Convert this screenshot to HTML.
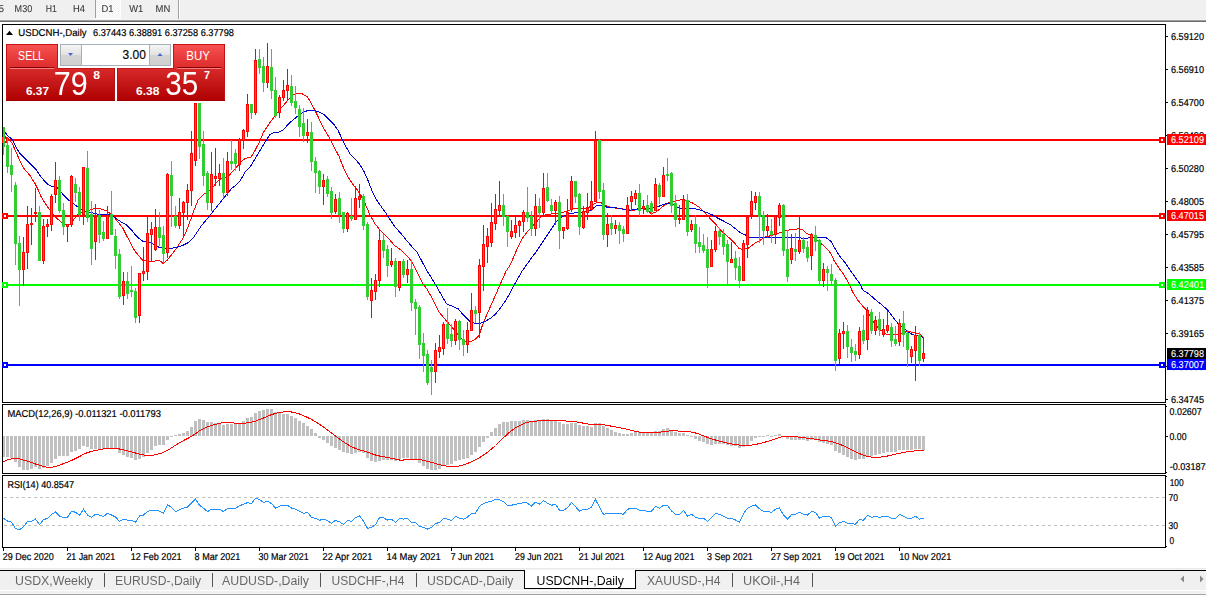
<!DOCTYPE html><html><head><meta charset="utf-8"><title>USDCNH</title>
<style>html,body{margin:0;padding:0;background:#fff;overflow:hidden}svg{display:block}text{font-family:"Liberation Sans",sans-serif}</style></head><body>
<svg width="1206" height="596" viewBox="0 0 1206 596">
<defs>
<linearGradient id="gs" x1="0" y1="0" x2="0" y2="1"><stop offset="0" stop-color="#f85252"/><stop offset="1" stop-color="#dc2a2a"/></linearGradient>
<linearGradient id="gp" x1="0" y1="0" x2="0" y2="1"><stop offset="0" stop-color="#d82a2a"/><stop offset="1" stop-color="#ae0000"/></linearGradient>
<linearGradient id="gb" x1="0" y1="0" x2="0" y2="1"><stop offset="0" stop-color="#f4f4f4"/><stop offset="0.5" stop-color="#e2e2e2"/><stop offset="0.5" stop-color="#d4d4d4"/><stop offset="1" stop-color="#d0d0d0"/></linearGradient>
<filter id="thin" x="-5%" y="-5%" width="110%" height="110%"><feMorphology operator="erode" radius="0.45"/></filter>
<pattern id="chk" width="2" height="2" patternUnits="userSpaceOnUse"><rect width="2" height="2" fill="#f0f0f0"/><rect width="1" height="1" fill="#fff"/><rect x="1" y="1" width="1" height="1" fill="#fff"/></pattern>
<clipPath id="cm"><rect x="3" y="25" width="1162" height="377"/></clipPath>
</defs>
<rect width="1206" height="596" fill="#fff"/>
<g shape-rendering="crispEdges">
<rect x="0" y="0" width="1206" height="19" fill="#f0f0f0"/>
<rect x="0" y="19" width="1206" height="1" fill="#f2f2f2"/>
<rect x="0" y="20" width="1206" height="1" fill="#a0a0a0"/>
<rect x="0" y="21" width="1206" height="1" fill="#696969"/>
<rect x="96" y="0" width="24" height="18" fill="url(#chk)"/>
<rect x="95" y="0" width="1" height="18" fill="#a0a0a0"/>
<rect x="120" y="0" width="1" height="19" fill="#fff"/><rect x="95" y="18" width="26" height="1" fill="#fff"/>
<rect x="178" y="0" width="1" height="19" fill="#a0a0a0"/>
<rect x="179" y="0" width="1" height="19" fill="#fff"/>
</g>
<text x="-1.5" y="12" font-size="10" fill="#383838" stroke="#383838" stroke-width="0.1" textLength="5.5" lengthAdjust="spacingAndGlyphs" text-rendering="geometricPrecision" opacity="0.99">5</text>
<text x="14.6" y="12" font-size="10" fill="#383838" stroke="#383838" stroke-width="0.1" textLength="17.6" lengthAdjust="spacingAndGlyphs" text-rendering="geometricPrecision" opacity="0.99">M30</text>
<text x="45.8" y="12" font-size="10" fill="#383838" stroke="#383838" stroke-width="0.1" textLength="11.1" lengthAdjust="spacingAndGlyphs" text-rendering="geometricPrecision" opacity="0.99">H1</text>
<text x="73" y="12" font-size="10" fill="#383838" stroke="#383838" stroke-width="0.1" textLength="12" lengthAdjust="spacingAndGlyphs" text-rendering="geometricPrecision" opacity="0.99">H4</text>
<text x="101.5" y="12" font-size="10" fill="#383838" stroke="#383838" stroke-width="0.1" textLength="12" lengthAdjust="spacingAndGlyphs" text-rendering="geometricPrecision" opacity="0.99">D1</text>
<text x="129.3" y="12" font-size="10" fill="#383838" stroke="#383838" stroke-width="0.1" textLength="14" lengthAdjust="spacingAndGlyphs" text-rendering="geometricPrecision" opacity="0.99">W1</text>
<text x="155.6" y="12" font-size="10" fill="#383838" stroke="#383838" stroke-width="0.1" textLength="14.7" lengthAdjust="spacingAndGlyphs" text-rendering="geometricPrecision" opacity="0.99">MN</text>
<g shape-rendering="crispEdges" fill="#000">
<rect x="2" y="24" width="1164" height="1"/>
<rect x="2" y="24" width="1" height="524"/>
<rect x="1165" y="24" width="1" height="524"/>
<rect x="2" y="402" width="1164" height="1"/>
<rect x="2" y="404" width="1164" height="1"/>
<rect x="2" y="473" width="1164" height="1"/>
<rect x="2" y="475" width="1164" height="1"/>
<rect x="2" y="547" width="1164" height="1"/>
<rect x="3" y="403" width="1162" height="1" fill="#fff"/>
<rect x="3" y="474" width="1162" height="1" fill="#fff"/>
<rect x="2" y="403" width="1" height="1" fill="#fff"/><rect x="1165" y="403" width="1" height="1" fill="#fff"/>
<rect x="2" y="474" width="1" height="1" fill="#fff"/><rect x="1165" y="474" width="1" height="1" fill="#fff"/>
</g>
<g shape-rendering="crispEdges" fill="#000">
<rect x="1166" y="36" width="2" height="1"/>
<rect x="1166" y="69" width="2" height="1"/>
<rect x="1166" y="102" width="2" height="1"/>
<rect x="1166" y="135" width="2" height="1"/>
<rect x="1166" y="168" width="2" height="1"/>
<rect x="1166" y="201" width="2" height="1"/>
<rect x="1166" y="234" width="2" height="1"/>
<rect x="1166" y="267" width="2" height="1"/>
<rect x="1166" y="300" width="2" height="1"/>
<rect x="1166" y="333" width="2" height="1"/>
<rect x="1166" y="366" width="2" height="1"/>
<rect x="1166" y="399" width="2" height="1"/>
<rect x="1166" y="406" width="1" height="1"/><rect x="1166" y="436" width="2" height="1"/><rect x="1166" y="472" width="1" height="1"/><rect x="1166" y="476" width="1" height="1"/><rect x="1166" y="546" width="1" height="1"/>
</g>
<text x="1171" y="40" font-size="10" fill="#000" stroke="#000" stroke-width="0.2" textLength="33" lengthAdjust="spacingAndGlyphs" text-rendering="geometricPrecision" >6.59120</text>
<text x="1171" y="73" font-size="10" fill="#000" stroke="#000" stroke-width="0.2" textLength="33" lengthAdjust="spacingAndGlyphs" text-rendering="geometricPrecision" >6.56910</text>
<text x="1171" y="106" font-size="10" fill="#000" stroke="#000" stroke-width="0.2" textLength="33" lengthAdjust="spacingAndGlyphs" text-rendering="geometricPrecision" >6.54700</text>
<text x="1171" y="139" font-size="10" fill="#000" stroke="#000" stroke-width="0.2" textLength="33" lengthAdjust="spacingAndGlyphs" text-rendering="geometricPrecision" >6.52490</text>
<text x="1171" y="172" font-size="10" fill="#000" stroke="#000" stroke-width="0.2" textLength="33" lengthAdjust="spacingAndGlyphs" text-rendering="geometricPrecision" >6.50280</text>
<text x="1171" y="205" font-size="10" fill="#000" stroke="#000" stroke-width="0.2" textLength="33" lengthAdjust="spacingAndGlyphs" text-rendering="geometricPrecision" >6.48005</text>
<text x="1171" y="238" font-size="10" fill="#000" stroke="#000" stroke-width="0.2" textLength="33" lengthAdjust="spacingAndGlyphs" text-rendering="geometricPrecision" >6.45795</text>
<text x="1171" y="271" font-size="10" fill="#000" stroke="#000" stroke-width="0.2" textLength="33" lengthAdjust="spacingAndGlyphs" text-rendering="geometricPrecision" >6.43585</text>
<text x="1171" y="304" font-size="10" fill="#000" stroke="#000" stroke-width="0.2" textLength="33" lengthAdjust="spacingAndGlyphs" text-rendering="geometricPrecision" >6.41375</text>
<text x="1171" y="337" font-size="10" fill="#000" stroke="#000" stroke-width="0.2" textLength="33" lengthAdjust="spacingAndGlyphs" text-rendering="geometricPrecision" >6.39165</text>
<text x="1171" y="370" font-size="10" fill="#000" stroke="#000" stroke-width="0.2" textLength="33" lengthAdjust="spacingAndGlyphs" text-rendering="geometricPrecision" >6.36955</text>
<text x="1171" y="403" font-size="10" fill="#000" stroke="#000" stroke-width="0.2" textLength="33" lengthAdjust="spacingAndGlyphs" text-rendering="geometricPrecision" >6.34745</text>
<text x="1169.5" y="415" font-size="10" fill="#000" stroke="#000" stroke-width="0.2" textLength="32.2" lengthAdjust="spacingAndGlyphs" text-rendering="geometricPrecision" >0.02607</text>
<text x="1169.5" y="440" font-size="10" fill="#000" stroke="#000" stroke-width="0.2" textLength="17" lengthAdjust="spacingAndGlyphs" text-rendering="geometricPrecision" >0.00</text>
<text x="1169.7" y="470" font-size="10" fill="#000" stroke="#000" stroke-width="0.2" textLength="41" lengthAdjust="spacingAndGlyphs" text-rendering="geometricPrecision" >-0.031872</text>
<text x="1169.7" y="486" font-size="10" fill="#000" stroke="#000" stroke-width="0.2" textLength="14" lengthAdjust="spacingAndGlyphs" text-rendering="geometricPrecision" >100</text>
<text x="1168.5" y="501" font-size="10" fill="#000" stroke="#000" stroke-width="0.2" textLength="9.5" lengthAdjust="spacingAndGlyphs" text-rendering="geometricPrecision" >70</text>
<text x="1168.5" y="529" font-size="10" fill="#000" stroke="#000" stroke-width="0.2" textLength="9.5" lengthAdjust="spacingAndGlyphs" text-rendering="geometricPrecision" >30</text>
<text x="1169.5" y="544" font-size="10" fill="#000" stroke="#000" stroke-width="0.2" textLength="4.6" lengthAdjust="spacingAndGlyphs" text-rendering="geometricPrecision" >0</text>
<g shape-rendering="crispEdges">
<rect x="3" y="139" width="1162" height="2" fill="#ff0000"/>
<rect x="2" y="137" width="6" height="6" fill="#ff0000"/><rect x="4" y="139" width="2" height="2" fill="#fff"/>
<rect x="1159" y="137" width="6" height="6" fill="#ff0000"/><rect x="1161" y="139" width="2" height="2" fill="#fff"/>
<rect x="1167" y="134" width="39" height="11" fill="#ff0000"/>
</g>
<text x="1171" y="143" font-size="10" fill="#fff" stroke="#fff" stroke-width="0.1" textLength="33" lengthAdjust="spacingAndGlyphs" text-rendering="geometricPrecision" >6.52109</text>
<g shape-rendering="crispEdges">
<rect x="3" y="215" width="1162" height="2" fill="#ff0000"/>
<rect x="2" y="213" width="6" height="6" fill="#ff0000"/><rect x="4" y="215" width="2" height="2" fill="#fff"/>
<rect x="1159" y="213" width="6" height="6" fill="#ff0000"/><rect x="1161" y="215" width="2" height="2" fill="#fff"/>
<rect x="1167" y="210" width="39" height="11" fill="#ff0000"/>
</g>
<text x="1171" y="219" font-size="10" fill="#fff" stroke="#fff" stroke-width="0.1" textLength="33" lengthAdjust="spacingAndGlyphs" text-rendering="geometricPrecision" >6.47015</text>
<g shape-rendering="crispEdges">
<rect x="3" y="284" width="1162" height="2" fill="#00ff00"/>
<rect x="2" y="282" width="6" height="6" fill="#00ff00"/><rect x="4" y="284" width="2" height="2" fill="#fff"/>
<rect x="1159" y="282" width="6" height="6" fill="#00ff00"/><rect x="1161" y="284" width="2" height="2" fill="#fff"/>
<rect x="1167" y="279" width="39" height="11" fill="#00ff00"/>
</g>
<text x="1171" y="288" font-size="10" fill="#fff" stroke="#fff" stroke-width="0.1" textLength="33" lengthAdjust="spacingAndGlyphs" text-rendering="geometricPrecision" >6.42401</text>
<rect x="1167" y="348" width="39" height="11" fill="#000" shape-rendering="crispEdges"/>
<text x="1171" y="357" font-size="10" fill="#fff" stroke="#fff" stroke-width="0.1" textLength="33" lengthAdjust="spacingAndGlyphs" text-rendering="geometricPrecision" >6.37798</text>
<g shape-rendering="crispEdges">
<rect x="3" y="364" width="1162" height="2" fill="#0000ff"/>
<rect x="2" y="362" width="6" height="6" fill="#0000ff"/><rect x="4" y="364" width="2" height="2" fill="#fff"/>
<rect x="1159" y="362" width="6" height="6" fill="#0000ff"/><rect x="1161" y="364" width="2" height="2" fill="#fff"/>
<rect x="1167" y="359" width="39" height="11" fill="#0000ff"/>
</g>
<text x="1171" y="368" font-size="10" fill="#fff" stroke="#fff" stroke-width="0.1" textLength="33" lengthAdjust="spacingAndGlyphs" text-rendering="geometricPrecision" >6.37007</text>
<g shape-rendering="crispEdges"><rect x="2" y="24" width="1" height="379" fill="#000"/><rect x="2" y="404" width="1" height="70" fill="#000"/><rect x="2" y="475" width="1" height="73" fill="#000"/></g>
<g shape-rendering="crispEdges"><rect x="2" y="137" width="6" height="6" fill="#ff0000"/><rect x="4" y="139" width="2" height="2" fill="#fff"/></g>
<g shape-rendering="crispEdges"><rect x="2" y="213" width="6" height="6" fill="#ff0000"/><rect x="4" y="215" width="2" height="2" fill="#fff"/></g>
<g shape-rendering="crispEdges"><rect x="2" y="282" width="6" height="6" fill="#00ff00"/><rect x="4" y="284" width="2" height="2" fill="#fff"/></g>
<g shape-rendering="crispEdges"><rect x="2" y="362" width="6" height="6" fill="#0000ff"/><rect x="4" y="364" width="2" height="2" fill="#fff"/></g>
<polyline fill="none" stroke="#ff0000" stroke-width="1" points="3,136 8,138 12,143 16,152 20,161 24,168.5 30,175.5 35,183.6 38,189.6 41,196.6 45,203 49,209 53,214 57,218.5 61,222 64,224.6 69.5,224.6 73.5,220 76.5,216 80,213 86.6,211 94.6,208.5 100.7,209 106.7,211 110.7,214 114.8,218 118.8,223 122.8,228 126.8,236 130.9,244 134.9,251 138.9,256 142.9,260.4 147,260.8 153,261.4 159,260 163,263.4 167,260.4 171,255.4 175,250.3 179,244.3 183,238.3 186,232 189,224 192,216 194.3,209.5 197.3,202 198.3,199.7 203.3,194.6 208.4,191.6 213.4,186.6 217.4,181.5 221.5,178.5 227.5,177.5 231.5,172.5 235,168.9 240,163 245,158.5 251,157.2 255,150.5 259.4,142 263.6,132 268.6,124.5 273.6,117.8 278.7,111 283.7,105.2 288.7,99.3 293,95 297,93 302,93.8 307,96.4 310.5,101.8 314,108.5 319,118.6 324,128.7 329,137 334,147 339,156.3 344,169 348.5,177.6 352.7,184.3 356.8,189.3 361,195.5 365,203.3 369.5,213.8 374.7,223.4 380,230 384.5,234.6 389,239 394.3,245.4 399,248.5 403.8,252.5 408,257 412.1,262 415.6,269 417.2,272.5 422.2,282.6 427.2,289.5 432.3,298.7 436,306 438.3,311 443.3,317.2 449.4,324.3 455.4,331.3 461.5,338.4 466.5,342.4 471.5,341.4 475,339.7 479,335.7 482,326.6 486,316.6 490,307.5 494,298.5 498,289.4 502,280.3 506,271.3 510,265.2 514,256.2 518,247.1 522,239 527,232 532,226.7 537,221.6 541,216.6 546,214.6 556,213.5 566.6,211.6 570.7,209.6 576.7,208 582.7,208.6 588.8,207.5 592.8,204.5 596.8,202.5 600.9,202.5 604.9,205.5 610.9,207.5 619,208.5 627,209.6 633,210.6 641,208.5 647,209.6 651,213.6 655,212.6 659,209.6 664,205.5 669,202.5 675,201.1 681,199.9 687,200.5 693.5,203.5 699.5,207.5 704.6,212.6 710,218.3 715,223.4 720,229.4 725,234.4 730,238.5 735,243.5 739,248.5 743,249.5 748,248.5 752,245.5 756,242.5 760,240.5 764,237.4 769.5,236 775.5,234 780.5,232.4 786.6,230.4 792.6,229.4 798.7,228.8 802.7,230 806.7,233.4 810.7,235.4 815.8,239.5 820.8,243.5 825.8,247.5 831,253.6 834,260.6 838,266.6 843,273.5 847,280 849,284 852.7,292 857.7,300 862.7,306 866.8,310.3 870.8,317.3 874.8,324.4 881,330.4 887,334.8 895,334.4 901,334 907,331.4 913,332.4 919,334 923,337" clip-path="url(#cm)" shape-rendering="crispEdges"/>
<polyline fill="none" stroke="#0000d0" stroke-width="1" points="3,129 4,131 8,136 12,139.3 15,145.3 19,152.3 24,157.4 30,163.4 36,169.5 40,175.5 44,180.5 48,184.6 52,186.6 56,186.6 60,190.6 64,195.6 68.5,200 72.5,203 76.5,206 80.5,209 84.6,211 90.6,212.5 96.6,214 104,214.5 110,215 112.7,215.7 116.8,219 120.8,221.7 126.8,225.2 130.9,229.2 134.9,234.2 138.9,238.3 142.9,241.3 149,241.9 155,245.3 159,247.3 165,248.3 171,248.3 177,247.3 183,245.3 189,242.3 193,238.3 197,232.2 201,226.2 205.4,221 209.4,216 213.4,211 217.4,206 221.5,201 226.5,194.6 231.5,188.6 235.6,185.6 240,181 245,172.3 250,167.2 255,158.9 260,150.5 265,142.1 270,134.5 274.5,132.3 279.5,132 283.7,129.5 288.7,123.6 293.8,119.4 298.8,115.2 303.8,111.9 308.9,110.2 313.9,110.5 318.9,111.9 324,114.4 329,119.4 334,124.5 338,130.3 341.6,137.9 345.8,146.3 350,153.8 355,158.9 360,164.7 364,171.5 367.8,180 372,191 376.5,199.7 381.5,207 385,211.8 389,218 395,227 401,233.5 407,241 412.2,247 416.3,251 421,259.6 426.3,269.7 431.3,277.6 436.3,285.8 441.3,294.8 446.4,303.8 451.4,305.9 458.4,309 463.5,315.2 469.5,321.2 473,322.2 476,324 480,323.2 485,321.6 490,318.6 495,314.6 500,308.5 505,301.5 510,293.4 514,285.4 518,278.3 522,271.3 527,264.2 532,257.2 536,252.1 540,246 544,240.1 548,234 551,229.5 555.6,222.6 560.6,217.6 565.6,215.2 570.7,213.6 576.7,212.6 582.7,212 588.8,211.2 592.8,208.6 596.8,205.5 601.9,205.5 606.9,207.1 615,207.5 623,209.2 629,210.6 635,209.2 643,208.5 651,208 657,207.1 663,204.5 668,203.1 673,203.9 677,207.5 683,208.5 691.5,208.5 697.5,209.2 703.5,211.2 706,212.3 712,214.7 718,218.3 724,221.3 730,224.4 735,228.4 740,232.4 745,234.8 750,237.4 758,237.4 766,237.4 772.5,238 780.5,237.4 788.6,238 796.6,237.4 804.7,238.5 812.7,237.4 820.8,237.4 825.8,237.4 831,241.5 835,248.5 840,256.6 845,262.6 850,270 855,277 860,284 862.7,290 868.8,293.8 874.8,299.2 881,304.2 887,309.3 893,317.3 898,323.4 903,327.4 908,332 913,334.8 919,336 923,337.4" clip-path="url(#cm)" shape-rendering="crispEdges"/>
<g shape-rendering="crispEdges" clip-path="url(#cm)">
<rect x="3" y="127" width="1" height="28" fill="#32cd32"/>
<rect x="2" y="127" width="3" height="20" fill="#32cd32"/>
<rect x="7" y="138" width="1" height="35" fill="#32cd32"/>
<rect x="6" y="145" width="3" height="22" fill="#32cd32"/>
<rect x="11" y="148" width="1" height="44" fill="#32cd32"/>
<rect x="10" y="165" width="3" height="10" fill="#32cd32"/>
<rect x="15" y="182" width="1" height="83" fill="#32cd32"/>
<rect x="14" y="185" width="3" height="59" fill="#32cd32"/>
<rect x="19" y="236" width="1" height="70" fill="#32cd32"/>
<rect x="18" y="243" width="3" height="27" fill="#32cd32"/>
<rect x="23" y="237" width="1" height="49" fill="#ff0000"/>
<rect x="22" y="252" width="3" height="18" fill="#ff0000"/>
<rect x="23" y="253" width="1" height="16" fill="#ff5a00"/>
<rect x="27" y="206" width="1" height="63" fill="#ff0000"/>
<rect x="26" y="224" width="3" height="29" fill="#ff0000"/>
<rect x="27" y="225" width="1" height="27" fill="#ff5a00"/>
<rect x="31" y="208" width="1" height="37" fill="#ff0000"/>
<rect x="30" y="223" width="3" height="2" fill="#ff0000"/>
<rect x="35" y="188" width="1" height="34" fill="#ff0000"/>
<rect x="34" y="212" width="3" height="2" fill="#ff0000"/>
<rect x="39" y="206" width="1" height="55" fill="#32cd32"/>
<rect x="38" y="212" width="3" height="49" fill="#32cd32"/>
<rect x="43" y="219" width="1" height="45" fill="#ff0000"/>
<rect x="42" y="226" width="3" height="35" fill="#ff0000"/>
<rect x="43" y="227" width="1" height="33" fill="#ff5a00"/>
<rect x="47" y="219" width="1" height="18" fill="#ff0000"/>
<rect x="46" y="224" width="3" height="3" fill="#ff0000"/>
<rect x="47" y="225" width="1" height="1" fill="#ff5a00"/>
<rect x="51" y="194" width="1" height="37" fill="#ff0000"/>
<rect x="50" y="196" width="3" height="29" fill="#ff0000"/>
<rect x="51" y="197" width="1" height="27" fill="#ff5a00"/>
<rect x="55" y="162" width="1" height="41" fill="#ff0000"/>
<rect x="54" y="180" width="3" height="15" fill="#ff0000"/>
<rect x="55" y="181" width="1" height="13" fill="#ff5a00"/>
<rect x="59" y="176" width="1" height="37" fill="#32cd32"/>
<rect x="58" y="180" width="3" height="31" fill="#32cd32"/>
<rect x="63" y="203" width="1" height="32" fill="#32cd32"/>
<rect x="62" y="210" width="3" height="17" fill="#32cd32"/>
<rect x="67" y="224" width="1" height="18" fill="#ff0000"/>
<rect x="66" y="224" width="3" height="3" fill="#ff0000"/>
<rect x="67" y="225" width="1" height="1" fill="#ff5a00"/>
<rect x="71" y="175" width="1" height="52" fill="#ff0000"/>
<rect x="70" y="176" width="3" height="49" fill="#ff0000"/>
<rect x="71" y="177" width="1" height="47" fill="#ff5a00"/>
<rect x="75" y="178" width="1" height="24" fill="#32cd32"/>
<rect x="74" y="184" width="3" height="9" fill="#32cd32"/>
<rect x="79" y="187" width="1" height="34" fill="#32cd32"/>
<rect x="78" y="192" width="3" height="23" fill="#32cd32"/>
<rect x="83" y="167" width="1" height="58" fill="#ff0000"/>
<rect x="82" y="167" width="3" height="48" fill="#ff0000"/>
<rect x="83" y="168" width="1" height="46" fill="#ff5a00"/>
<rect x="87" y="151" width="1" height="71" fill="#32cd32"/>
<rect x="86" y="168" width="3" height="50" fill="#32cd32"/>
<rect x="91" y="201" width="1" height="64" fill="#32cd32"/>
<rect x="90" y="214" width="3" height="35" fill="#32cd32"/>
<rect x="95" y="204" width="1" height="56" fill="#ff0000"/>
<rect x="94" y="217" width="3" height="25" fill="#ff0000"/>
<rect x="95" y="218" width="1" height="23" fill="#ff5a00"/>
<rect x="99" y="210" width="1" height="33" fill="#32cd32"/>
<rect x="98" y="215" width="3" height="20" fill="#32cd32"/>
<rect x="103" y="221" width="1" height="20" fill="#32cd32"/>
<rect x="102" y="232" width="3" height="7" fill="#32cd32"/>
<rect x="107" y="206" width="1" height="33" fill="#ff0000"/>
<rect x="106" y="215" width="3" height="24" fill="#ff0000"/>
<rect x="107" y="216" width="1" height="22" fill="#ff5a00"/>
<rect x="111" y="191" width="1" height="44" fill="#32cd32"/>
<rect x="110" y="214" width="3" height="21" fill="#32cd32"/>
<rect x="115" y="229" width="1" height="40" fill="#32cd32"/>
<rect x="114" y="236" width="3" height="20" fill="#32cd32"/>
<rect x="119" y="249" width="1" height="50" fill="#32cd32"/>
<rect x="118" y="254" width="3" height="43" fill="#32cd32"/>
<rect x="123" y="272" width="1" height="33" fill="#ff0000"/>
<rect x="122" y="281" width="3" height="15" fill="#ff0000"/>
<rect x="123" y="282" width="1" height="13" fill="#ff5a00"/>
<rect x="127" y="272" width="1" height="27" fill="#32cd32"/>
<rect x="126" y="281" width="3" height="13" fill="#32cd32"/>
<rect x="131" y="266" width="1" height="31" fill="#32cd32"/>
<rect x="130" y="290" width="3" height="2" fill="#32cd32"/>
<rect x="135" y="288" width="1" height="35" fill="#32cd32"/>
<rect x="134" y="291" width="3" height="27" fill="#32cd32"/>
<rect x="139" y="273" width="1" height="50" fill="#ff0000"/>
<rect x="138" y="273" width="3" height="43" fill="#ff0000"/>
<rect x="139" y="274" width="1" height="41" fill="#ff5a00"/>
<rect x="143" y="247" width="1" height="34" fill="#ff0000"/>
<rect x="142" y="271" width="3" height="3" fill="#ff0000"/>
<rect x="143" y="272" width="1" height="1" fill="#ff5a00"/>
<rect x="147" y="216" width="1" height="64" fill="#ff0000"/>
<rect x="146" y="233" width="3" height="39" fill="#ff0000"/>
<rect x="147" y="234" width="1" height="37" fill="#ff5a00"/>
<rect x="151" y="222" width="1" height="39" fill="#ff0000"/>
<rect x="150" y="229" width="3" height="6" fill="#ff0000"/>
<rect x="151" y="230" width="1" height="4" fill="#ff5a00"/>
<rect x="155" y="209" width="1" height="42" fill="#ff0000"/>
<rect x="154" y="227" width="3" height="23" fill="#ff0000"/>
<rect x="155" y="228" width="1" height="21" fill="#ff5a00"/>
<rect x="159" y="212" width="1" height="34" fill="#32cd32"/>
<rect x="158" y="227" width="3" height="11" fill="#32cd32"/>
<rect x="163" y="226" width="1" height="37" fill="#32cd32"/>
<rect x="162" y="235" width="3" height="19" fill="#32cd32"/>
<rect x="167" y="173" width="1" height="85" fill="#ff0000"/>
<rect x="166" y="174" width="3" height="79" fill="#ff0000"/>
<rect x="167" y="175" width="1" height="77" fill="#ff5a00"/>
<rect x="171" y="161" width="1" height="66" fill="#32cd32"/>
<rect x="170" y="175" width="3" height="21" fill="#32cd32"/>
<rect x="175" y="206" width="1" height="22" fill="#32cd32"/>
<rect x="174" y="216" width="3" height="10" fill="#32cd32"/>
<rect x="179" y="198" width="1" height="31" fill="#ff0000"/>
<rect x="178" y="212" width="3" height="14" fill="#ff0000"/>
<rect x="179" y="213" width="1" height="12" fill="#ff5a00"/>
<rect x="183" y="201" width="1" height="37" fill="#ff0000"/>
<rect x="182" y="202" width="3" height="11" fill="#ff0000"/>
<rect x="183" y="203" width="1" height="9" fill="#ff5a00"/>
<rect x="187" y="184" width="1" height="36" fill="#ff0000"/>
<rect x="186" y="190" width="3" height="13" fill="#ff0000"/>
<rect x="187" y="191" width="1" height="11" fill="#ff5a00"/>
<rect x="191" y="131" width="1" height="75" fill="#ff0000"/>
<rect x="190" y="153" width="3" height="38" fill="#ff0000"/>
<rect x="191" y="154" width="1" height="36" fill="#ff5a00"/>
<rect x="195" y="103" width="1" height="63" fill="#ff0000"/>
<rect x="194" y="103" width="3" height="58" fill="#ff0000"/>
<rect x="195" y="104" width="1" height="56" fill="#ff5a00"/>
<rect x="199" y="103" width="1" height="56" fill="#32cd32"/>
<rect x="198" y="103" width="3" height="44" fill="#32cd32"/>
<rect x="203" y="131" width="1" height="55" fill="#32cd32"/>
<rect x="202" y="144" width="3" height="32" fill="#32cd32"/>
<rect x="207" y="171" width="1" height="39" fill="#32cd32"/>
<rect x="206" y="173" width="3" height="30" fill="#32cd32"/>
<rect x="211" y="152" width="1" height="59" fill="#ff0000"/>
<rect x="210" y="174" width="3" height="29" fill="#ff0000"/>
<rect x="211" y="175" width="1" height="27" fill="#ff5a00"/>
<rect x="215" y="148" width="1" height="38" fill="#ff0000"/>
<rect x="214" y="176" width="3" height="3" fill="#ff0000"/>
<rect x="215" y="177" width="1" height="1" fill="#ff5a00"/>
<rect x="219" y="164" width="1" height="22" fill="#ff0000"/>
<rect x="218" y="173" width="3" height="6" fill="#ff0000"/>
<rect x="219" y="174" width="1" height="4" fill="#ff5a00"/>
<rect x="223" y="158" width="1" height="40" fill="#32cd32"/>
<rect x="222" y="173" width="3" height="20" fill="#32cd32"/>
<rect x="227" y="152" width="1" height="44" fill="#ff0000"/>
<rect x="226" y="161" width="3" height="32" fill="#ff0000"/>
<rect x="227" y="162" width="1" height="30" fill="#ff5a00"/>
<rect x="231" y="140" width="1" height="30" fill="#32cd32"/>
<rect x="230" y="161" width="3" height="3" fill="#32cd32"/>
<rect x="235" y="149" width="1" height="22" fill="#32cd32"/>
<rect x="234" y="153" width="3" height="11" fill="#32cd32"/>
<rect x="239" y="138" width="1" height="33" fill="#ff0000"/>
<rect x="238" y="139" width="3" height="26" fill="#ff0000"/>
<rect x="239" y="140" width="1" height="24" fill="#ff5a00"/>
<rect x="243" y="129" width="1" height="20" fill="#ff0000"/>
<rect x="242" y="130" width="3" height="11" fill="#ff0000"/>
<rect x="243" y="131" width="1" height="9" fill="#ff5a00"/>
<rect x="247" y="94" width="1" height="43" fill="#ff0000"/>
<rect x="246" y="104" width="3" height="28" fill="#ff0000"/>
<rect x="247" y="105" width="1" height="26" fill="#ff5a00"/>
<rect x="251" y="104" width="1" height="15" fill="#32cd32"/>
<rect x="250" y="104" width="3" height="9" fill="#32cd32"/>
<rect x="255" y="49" width="1" height="66" fill="#ff0000"/>
<rect x="254" y="60" width="3" height="53" fill="#ff0000"/>
<rect x="255" y="61" width="1" height="51" fill="#ff5a00"/>
<rect x="259" y="49" width="1" height="25" fill="#32cd32"/>
<rect x="258" y="59" width="3" height="9" fill="#32cd32"/>
<rect x="263" y="57" width="1" height="35" fill="#32cd32"/>
<rect x="262" y="66" width="3" height="17" fill="#32cd32"/>
<rect x="267" y="43" width="1" height="45" fill="#ff0000"/>
<rect x="266" y="66" width="3" height="17" fill="#ff0000"/>
<rect x="267" y="67" width="1" height="15" fill="#ff5a00"/>
<rect x="271" y="49" width="1" height="50" fill="#32cd32"/>
<rect x="270" y="67" width="3" height="24" fill="#32cd32"/>
<rect x="275" y="77" width="1" height="41" fill="#32cd32"/>
<rect x="274" y="90" width="3" height="26" fill="#32cd32"/>
<rect x="279" y="95" width="1" height="23" fill="#ff0000"/>
<rect x="278" y="97" width="3" height="16" fill="#ff0000"/>
<rect x="279" y="98" width="1" height="14" fill="#ff5a00"/>
<rect x="283" y="80" width="1" height="21" fill="#ff0000"/>
<rect x="282" y="90" width="3" height="8" fill="#ff0000"/>
<rect x="283" y="91" width="1" height="6" fill="#ff5a00"/>
<rect x="287" y="69" width="1" height="32" fill="#ff0000"/>
<rect x="286" y="85" width="3" height="6" fill="#ff0000"/>
<rect x="287" y="86" width="1" height="4" fill="#ff5a00"/>
<rect x="291" y="75" width="1" height="31" fill="#32cd32"/>
<rect x="290" y="86" width="3" height="17" fill="#32cd32"/>
<rect x="295" y="86" width="1" height="28" fill="#32cd32"/>
<rect x="294" y="101" width="3" height="7" fill="#32cd32"/>
<rect x="299" y="105" width="1" height="32" fill="#32cd32"/>
<rect x="298" y="109" width="3" height="18" fill="#32cd32"/>
<rect x="303" y="108" width="1" height="34" fill="#32cd32"/>
<rect x="302" y="123" width="3" height="13" fill="#32cd32"/>
<rect x="307" y="119" width="1" height="24" fill="#ff0000"/>
<rect x="306" y="132" width="3" height="4" fill="#ff0000"/>
<rect x="307" y="133" width="1" height="2" fill="#ff5a00"/>
<rect x="311" y="122" width="1" height="49" fill="#32cd32"/>
<rect x="310" y="132" width="3" height="30" fill="#32cd32"/>
<rect x="315" y="157" width="1" height="36" fill="#32cd32"/>
<rect x="314" y="161" width="3" height="12" fill="#32cd32"/>
<rect x="319" y="170" width="1" height="24" fill="#32cd32"/>
<rect x="318" y="171" width="3" height="16" fill="#32cd32"/>
<rect x="323" y="174" width="1" height="31" fill="#ff0000"/>
<rect x="322" y="180" width="3" height="7" fill="#ff0000"/>
<rect x="323" y="181" width="1" height="5" fill="#ff5a00"/>
<rect x="327" y="176" width="1" height="21" fill="#32cd32"/>
<rect x="326" y="179" width="3" height="15" fill="#32cd32"/>
<rect x="331" y="187" width="1" height="32" fill="#32cd32"/>
<rect x="330" y="191" width="3" height="22" fill="#32cd32"/>
<rect x="335" y="194" width="1" height="20" fill="#ff0000"/>
<rect x="334" y="199" width="3" height="13" fill="#ff0000"/>
<rect x="335" y="200" width="1" height="11" fill="#ff5a00"/>
<rect x="339" y="192" width="1" height="31" fill="#32cd32"/>
<rect x="338" y="198" width="3" height="17" fill="#32cd32"/>
<rect x="343" y="212" width="1" height="21" fill="#32cd32"/>
<rect x="342" y="212" width="3" height="17" fill="#32cd32"/>
<rect x="347" y="212" width="1" height="20" fill="#ff0000"/>
<rect x="346" y="213" width="3" height="16" fill="#ff0000"/>
<rect x="347" y="214" width="1" height="14" fill="#ff5a00"/>
<rect x="351" y="198" width="1" height="23" fill="#32cd32"/>
<rect x="350" y="216" width="3" height="3" fill="#32cd32"/>
<rect x="355" y="186" width="1" height="34" fill="#ff0000"/>
<rect x="354" y="198" width="3" height="22" fill="#ff0000"/>
<rect x="355" y="199" width="1" height="20" fill="#ff5a00"/>
<rect x="359" y="184" width="1" height="24" fill="#ff0000"/>
<rect x="358" y="196" width="3" height="4" fill="#ff0000"/>
<rect x="359" y="197" width="1" height="2" fill="#ff5a00"/>
<rect x="363" y="194" width="1" height="36" fill="#32cd32"/>
<rect x="362" y="196" width="3" height="30" fill="#32cd32"/>
<rect x="367" y="222" width="1" height="78" fill="#32cd32"/>
<rect x="366" y="224" width="3" height="73" fill="#32cd32"/>
<rect x="371" y="278" width="1" height="40" fill="#ff0000"/>
<rect x="370" y="290" width="3" height="11" fill="#ff0000"/>
<rect x="371" y="291" width="1" height="9" fill="#ff5a00"/>
<rect x="375" y="274" width="1" height="26" fill="#ff0000"/>
<rect x="374" y="280" width="3" height="12" fill="#ff0000"/>
<rect x="375" y="281" width="1" height="10" fill="#ff5a00"/>
<rect x="379" y="230" width="1" height="57" fill="#ff0000"/>
<rect x="378" y="240" width="3" height="41" fill="#ff0000"/>
<rect x="379" y="241" width="1" height="39" fill="#ff5a00"/>
<rect x="383" y="234" width="1" height="24" fill="#32cd32"/>
<rect x="382" y="240" width="3" height="11" fill="#32cd32"/>
<rect x="387" y="245" width="1" height="32" fill="#32cd32"/>
<rect x="386" y="249" width="3" height="17" fill="#32cd32"/>
<rect x="391" y="248" width="1" height="19" fill="#ff0000"/>
<rect x="390" y="261" width="3" height="4" fill="#ff0000"/>
<rect x="391" y="262" width="1" height="2" fill="#ff5a00"/>
<rect x="395" y="258" width="1" height="39" fill="#32cd32"/>
<rect x="394" y="261" width="3" height="26" fill="#32cd32"/>
<rect x="399" y="261" width="1" height="30" fill="#ff0000"/>
<rect x="398" y="261" width="3" height="27" fill="#ff0000"/>
<rect x="399" y="262" width="1" height="25" fill="#ff5a00"/>
<rect x="403" y="259" width="1" height="19" fill="#32cd32"/>
<rect x="402" y="261" width="3" height="14" fill="#32cd32"/>
<rect x="407" y="260" width="1" height="23" fill="#ff0000"/>
<rect x="406" y="269" width="3" height="6" fill="#ff0000"/>
<rect x="407" y="270" width="1" height="4" fill="#ff5a00"/>
<rect x="411" y="260" width="1" height="51" fill="#32cd32"/>
<rect x="410" y="269" width="3" height="34" fill="#32cd32"/>
<rect x="415" y="299" width="1" height="36" fill="#32cd32"/>
<rect x="414" y="302" width="3" height="7" fill="#32cd32"/>
<rect x="419" y="305" width="1" height="54" fill="#32cd32"/>
<rect x="418" y="307" width="3" height="38" fill="#32cd32"/>
<rect x="423" y="333" width="1" height="39" fill="#32cd32"/>
<rect x="422" y="343" width="3" height="13" fill="#32cd32"/>
<rect x="427" y="350" width="1" height="35" fill="#32cd32"/>
<rect x="426" y="354" width="3" height="29" fill="#32cd32"/>
<rect x="431" y="360" width="1" height="35" fill="#32cd32"/>
<rect x="430" y="367" width="3" height="5" fill="#32cd32"/>
<rect x="435" y="343" width="1" height="40" fill="#ff0000"/>
<rect x="434" y="350" width="3" height="22" fill="#ff0000"/>
<rect x="435" y="351" width="1" height="20" fill="#ff5a00"/>
<rect x="439" y="335" width="1" height="23" fill="#ff0000"/>
<rect x="438" y="347" width="3" height="5" fill="#ff0000"/>
<rect x="439" y="348" width="1" height="3" fill="#ff5a00"/>
<rect x="443" y="322" width="1" height="33" fill="#ff0000"/>
<rect x="442" y="324" width="3" height="25" fill="#ff0000"/>
<rect x="443" y="325" width="1" height="23" fill="#ff5a00"/>
<rect x="447" y="308" width="1" height="36" fill="#32cd32"/>
<rect x="446" y="324" width="3" height="15" fill="#32cd32"/>
<rect x="451" y="324" width="1" height="23" fill="#32cd32"/>
<rect x="450" y="334" width="3" height="7" fill="#32cd32"/>
<rect x="455" y="319" width="1" height="26" fill="#ff0000"/>
<rect x="454" y="321" width="3" height="20" fill="#ff0000"/>
<rect x="455" y="322" width="1" height="18" fill="#ff5a00"/>
<rect x="459" y="320" width="1" height="30" fill="#32cd32"/>
<rect x="458" y="321" width="3" height="19" fill="#32cd32"/>
<rect x="463" y="330" width="1" height="26" fill="#32cd32"/>
<rect x="462" y="339" width="3" height="6" fill="#32cd32"/>
<rect x="467" y="322" width="1" height="31" fill="#ff0000"/>
<rect x="466" y="330" width="3" height="15" fill="#ff0000"/>
<rect x="467" y="331" width="1" height="13" fill="#ff5a00"/>
<rect x="471" y="293" width="1" height="38" fill="#ff0000"/>
<rect x="470" y="310" width="3" height="21" fill="#ff0000"/>
<rect x="471" y="311" width="1" height="19" fill="#ff5a00"/>
<rect x="475" y="306" width="1" height="17" fill="#32cd32"/>
<rect x="474" y="310" width="3" height="4" fill="#32cd32"/>
<rect x="479" y="259" width="1" height="79" fill="#ff0000"/>
<rect x="478" y="265" width="3" height="48" fill="#ff0000"/>
<rect x="479" y="266" width="1" height="46" fill="#ff5a00"/>
<rect x="483" y="225" width="1" height="66" fill="#ff0000"/>
<rect x="482" y="244" width="3" height="23" fill="#ff0000"/>
<rect x="483" y="245" width="1" height="21" fill="#ff5a00"/>
<rect x="487" y="228" width="1" height="35" fill="#ff0000"/>
<rect x="486" y="236" width="3" height="11" fill="#ff0000"/>
<rect x="487" y="237" width="1" height="9" fill="#ff5a00"/>
<rect x="491" y="203" width="1" height="44" fill="#ff0000"/>
<rect x="490" y="222" width="3" height="21" fill="#ff0000"/>
<rect x="491" y="223" width="1" height="19" fill="#ff5a00"/>
<rect x="495" y="194" width="1" height="36" fill="#ff0000"/>
<rect x="494" y="209" width="3" height="15" fill="#ff0000"/>
<rect x="495" y="210" width="1" height="13" fill="#ff5a00"/>
<rect x="499" y="181" width="1" height="36" fill="#ff0000"/>
<rect x="498" y="205" width="3" height="6" fill="#ff0000"/>
<rect x="499" y="206" width="1" height="4" fill="#ff5a00"/>
<rect x="503" y="194" width="1" height="32" fill="#32cd32"/>
<rect x="502" y="205" width="3" height="12" fill="#32cd32"/>
<rect x="507" y="215" width="1" height="32" fill="#32cd32"/>
<rect x="506" y="216" width="3" height="16" fill="#32cd32"/>
<rect x="511" y="220" width="1" height="19" fill="#ff0000"/>
<rect x="510" y="231" width="3" height="6" fill="#ff0000"/>
<rect x="511" y="232" width="1" height="4" fill="#ff5a00"/>
<rect x="515" y="217" width="1" height="21" fill="#ff0000"/>
<rect x="514" y="225" width="3" height="8" fill="#ff0000"/>
<rect x="515" y="226" width="1" height="6" fill="#ff5a00"/>
<rect x="519" y="220" width="1" height="17" fill="#ff0000"/>
<rect x="518" y="221" width="3" height="5" fill="#ff0000"/>
<rect x="519" y="222" width="1" height="3" fill="#ff5a00"/>
<rect x="523" y="210" width="1" height="22" fill="#ff0000"/>
<rect x="522" y="212" width="3" height="10" fill="#ff0000"/>
<rect x="523" y="213" width="1" height="8" fill="#ff5a00"/>
<rect x="527" y="187" width="1" height="35" fill="#32cd32"/>
<rect x="526" y="212" width="3" height="6" fill="#32cd32"/>
<rect x="531" y="211" width="1" height="25" fill="#32cd32"/>
<rect x="530" y="216" width="3" height="13" fill="#32cd32"/>
<rect x="535" y="194" width="1" height="42" fill="#ff0000"/>
<rect x="534" y="206" width="3" height="23" fill="#ff0000"/>
<rect x="535" y="207" width="1" height="21" fill="#ff5a00"/>
<rect x="539" y="198" width="1" height="30" fill="#32cd32"/>
<rect x="538" y="206" width="3" height="7" fill="#32cd32"/>
<rect x="543" y="173" width="1" height="42" fill="#ff0000"/>
<rect x="542" y="188" width="3" height="25" fill="#ff0000"/>
<rect x="543" y="189" width="1" height="23" fill="#ff5a00"/>
<rect x="547" y="173" width="1" height="29" fill="#32cd32"/>
<rect x="546" y="187" width="3" height="14" fill="#32cd32"/>
<rect x="551" y="199" width="1" height="14" fill="#32cd32"/>
<rect x="550" y="205" width="3" height="6" fill="#32cd32"/>
<rect x="555" y="200" width="1" height="25" fill="#ff0000"/>
<rect x="554" y="202" width="3" height="9" fill="#ff0000"/>
<rect x="555" y="203" width="1" height="7" fill="#ff5a00"/>
<rect x="559" y="196" width="1" height="53" fill="#32cd32"/>
<rect x="558" y="202" width="3" height="29" fill="#32cd32"/>
<rect x="563" y="227" width="1" height="12" fill="#ff0000"/>
<rect x="562" y="227" width="3" height="4" fill="#ff0000"/>
<rect x="563" y="228" width="1" height="2" fill="#ff5a00"/>
<rect x="567" y="199" width="1" height="31" fill="#ff0000"/>
<rect x="566" y="212" width="3" height="17" fill="#ff0000"/>
<rect x="567" y="213" width="1" height="15" fill="#ff5a00"/>
<rect x="571" y="176" width="1" height="36" fill="#ff0000"/>
<rect x="570" y="181" width="3" height="29" fill="#ff0000"/>
<rect x="571" y="182" width="1" height="27" fill="#ff5a00"/>
<rect x="575" y="181" width="1" height="22" fill="#32cd32"/>
<rect x="574" y="181" width="3" height="16" fill="#32cd32"/>
<rect x="579" y="193" width="1" height="42" fill="#32cd32"/>
<rect x="578" y="194" width="3" height="33" fill="#32cd32"/>
<rect x="583" y="206" width="1" height="23" fill="#ff0000"/>
<rect x="582" y="211" width="3" height="17" fill="#ff0000"/>
<rect x="583" y="212" width="1" height="15" fill="#ff5a00"/>
<rect x="587" y="193" width="1" height="27" fill="#ff0000"/>
<rect x="586" y="208" width="3" height="5" fill="#ff0000"/>
<rect x="587" y="209" width="1" height="3" fill="#ff5a00"/>
<rect x="591" y="181" width="1" height="30" fill="#ff0000"/>
<rect x="590" y="201" width="3" height="9" fill="#ff0000"/>
<rect x="591" y="202" width="1" height="7" fill="#ff5a00"/>
<rect x="595" y="131" width="1" height="71" fill="#ff0000"/>
<rect x="594" y="140" width="3" height="62" fill="#ff0000"/>
<rect x="595" y="141" width="1" height="60" fill="#ff5a00"/>
<rect x="599" y="139" width="1" height="60" fill="#32cd32"/>
<rect x="598" y="140" width="3" height="52" fill="#32cd32"/>
<rect x="603" y="183" width="1" height="57" fill="#32cd32"/>
<rect x="602" y="190" width="3" height="45" fill="#32cd32"/>
<rect x="607" y="213" width="1" height="34" fill="#ff0000"/>
<rect x="606" y="224" width="3" height="11" fill="#ff0000"/>
<rect x="607" y="225" width="1" height="9" fill="#ff5a00"/>
<rect x="611" y="215" width="1" height="20" fill="#32cd32"/>
<rect x="610" y="223" width="3" height="6" fill="#32cd32"/>
<rect x="615" y="220" width="1" height="14" fill="#ff0000"/>
<rect x="614" y="225" width="3" height="4" fill="#ff0000"/>
<rect x="615" y="226" width="1" height="2" fill="#ff5a00"/>
<rect x="619" y="222" width="1" height="22" fill="#32cd32"/>
<rect x="618" y="225" width="3" height="6" fill="#32cd32"/>
<rect x="623" y="226" width="1" height="16" fill="#32cd32"/>
<rect x="622" y="229" width="3" height="5" fill="#32cd32"/>
<rect x="627" y="197" width="1" height="37" fill="#ff0000"/>
<rect x="626" y="205" width="3" height="29" fill="#ff0000"/>
<rect x="627" y="206" width="1" height="27" fill="#ff5a00"/>
<rect x="631" y="191" width="1" height="20" fill="#ff0000"/>
<rect x="630" y="196" width="3" height="6" fill="#ff0000"/>
<rect x="631" y="197" width="1" height="4" fill="#ff5a00"/>
<rect x="635" y="190" width="1" height="15" fill="#ff0000"/>
<rect x="634" y="193" width="3" height="6" fill="#ff0000"/>
<rect x="635" y="194" width="1" height="4" fill="#ff5a00"/>
<rect x="639" y="184" width="1" height="32" fill="#32cd32"/>
<rect x="638" y="193" width="3" height="18" fill="#32cd32"/>
<rect x="643" y="200" width="1" height="14" fill="#ff0000"/>
<rect x="642" y="206" width="3" height="3" fill="#ff0000"/>
<rect x="643" y="207" width="1" height="1" fill="#ff5a00"/>
<rect x="647" y="195" width="1" height="18" fill="#32cd32"/>
<rect x="646" y="205" width="3" height="7" fill="#32cd32"/>
<rect x="651" y="201" width="1" height="15" fill="#32cd32"/>
<rect x="650" y="203" width="3" height="9" fill="#32cd32"/>
<rect x="655" y="178" width="1" height="33" fill="#ff0000"/>
<rect x="654" y="184" width="3" height="27" fill="#ff0000"/>
<rect x="655" y="185" width="1" height="25" fill="#ff5a00"/>
<rect x="659" y="183" width="1" height="21" fill="#32cd32"/>
<rect x="658" y="185" width="3" height="12" fill="#32cd32"/>
<rect x="663" y="167" width="1" height="30" fill="#ff0000"/>
<rect x="662" y="175" width="3" height="22" fill="#ff0000"/>
<rect x="663" y="176" width="1" height="20" fill="#ff5a00"/>
<rect x="667" y="158" width="1" height="23" fill="#32cd32"/>
<rect x="666" y="174" width="3" height="2" fill="#32cd32"/>
<rect x="671" y="172" width="1" height="41" fill="#32cd32"/>
<rect x="670" y="173" width="3" height="33" fill="#32cd32"/>
<rect x="675" y="195" width="1" height="32" fill="#32cd32"/>
<rect x="674" y="203" width="3" height="17" fill="#32cd32"/>
<rect x="679" y="205" width="1" height="19" fill="#ff0000"/>
<rect x="678" y="218" width="3" height="2" fill="#ff0000"/>
<rect x="683" y="195" width="1" height="25" fill="#ff0000"/>
<rect x="682" y="199" width="3" height="21" fill="#ff0000"/>
<rect x="683" y="200" width="1" height="19" fill="#ff5a00"/>
<rect x="687" y="194" width="1" height="42" fill="#32cd32"/>
<rect x="686" y="200" width="3" height="32" fill="#32cd32"/>
<rect x="691" y="220" width="1" height="12" fill="#ff0000"/>
<rect x="690" y="224" width="3" height="6" fill="#ff0000"/>
<rect x="691" y="225" width="1" height="4" fill="#ff5a00"/>
<rect x="695" y="215" width="1" height="38" fill="#32cd32"/>
<rect x="694" y="224" width="3" height="20" fill="#32cd32"/>
<rect x="699" y="227" width="1" height="26" fill="#32cd32"/>
<rect x="698" y="242" width="3" height="5" fill="#32cd32"/>
<rect x="703" y="234" width="1" height="19" fill="#32cd32"/>
<rect x="702" y="245" width="3" height="6" fill="#32cd32"/>
<rect x="707" y="237" width="1" height="51" fill="#32cd32"/>
<rect x="706" y="249" width="3" height="19" fill="#32cd32"/>
<rect x="711" y="240" width="1" height="27" fill="#ff0000"/>
<rect x="710" y="249" width="3" height="18" fill="#ff0000"/>
<rect x="711" y="250" width="1" height="16" fill="#ff5a00"/>
<rect x="715" y="226" width="1" height="26" fill="#ff0000"/>
<rect x="714" y="231" width="3" height="19" fill="#ff0000"/>
<rect x="715" y="232" width="1" height="17" fill="#ff5a00"/>
<rect x="719" y="228" width="1" height="17" fill="#32cd32"/>
<rect x="718" y="231" width="3" height="6" fill="#32cd32"/>
<rect x="723" y="229" width="1" height="26" fill="#32cd32"/>
<rect x="722" y="234" width="3" height="13" fill="#32cd32"/>
<rect x="727" y="240" width="1" height="45" fill="#32cd32"/>
<rect x="726" y="244" width="3" height="18" fill="#32cd32"/>
<rect x="731" y="242" width="1" height="21" fill="#ff0000"/>
<rect x="730" y="259" width="3" height="4" fill="#ff0000"/>
<rect x="731" y="260" width="1" height="2" fill="#ff5a00"/>
<rect x="735" y="251" width="1" height="29" fill="#32cd32"/>
<rect x="734" y="258" width="3" height="10" fill="#32cd32"/>
<rect x="739" y="257" width="1" height="31" fill="#32cd32"/>
<rect x="738" y="266" width="3" height="15" fill="#32cd32"/>
<rect x="743" y="240" width="1" height="41" fill="#ff0000"/>
<rect x="742" y="243" width="3" height="38" fill="#ff0000"/>
<rect x="743" y="244" width="1" height="36" fill="#ff5a00"/>
<rect x="747" y="217" width="1" height="41" fill="#ff0000"/>
<rect x="746" y="217" width="3" height="28" fill="#ff0000"/>
<rect x="747" y="218" width="1" height="26" fill="#ff5a00"/>
<rect x="751" y="191" width="1" height="28" fill="#ff0000"/>
<rect x="750" y="201" width="3" height="14" fill="#ff0000"/>
<rect x="751" y="202" width="1" height="12" fill="#ff5a00"/>
<rect x="755" y="192" width="1" height="18" fill="#ff0000"/>
<rect x="754" y="196" width="3" height="7" fill="#ff0000"/>
<rect x="755" y="197" width="1" height="5" fill="#ff5a00"/>
<rect x="759" y="192" width="1" height="51" fill="#32cd32"/>
<rect x="758" y="196" width="3" height="21" fill="#32cd32"/>
<rect x="763" y="211" width="1" height="34" fill="#32cd32"/>
<rect x="762" y="215" width="3" height="16" fill="#32cd32"/>
<rect x="767" y="214" width="1" height="24" fill="#ff0000"/>
<rect x="766" y="226" width="3" height="5" fill="#ff0000"/>
<rect x="767" y="227" width="1" height="3" fill="#ff5a00"/>
<rect x="771" y="219" width="1" height="24" fill="#32cd32"/>
<rect x="770" y="231" width="3" height="4" fill="#32cd32"/>
<rect x="775" y="215" width="1" height="29" fill="#ff0000"/>
<rect x="774" y="216" width="3" height="19" fill="#ff0000"/>
<rect x="775" y="217" width="1" height="17" fill="#ff5a00"/>
<rect x="779" y="203" width="1" height="23" fill="#ff0000"/>
<rect x="778" y="205" width="3" height="13" fill="#ff0000"/>
<rect x="779" y="206" width="1" height="11" fill="#ff5a00"/>
<rect x="783" y="204" width="1" height="52" fill="#32cd32"/>
<rect x="782" y="205" width="3" height="46" fill="#32cd32"/>
<rect x="787" y="230" width="1" height="52" fill="#32cd32"/>
<rect x="786" y="249" width="3" height="28" fill="#32cd32"/>
<rect x="791" y="234" width="1" height="30" fill="#ff0000"/>
<rect x="790" y="248" width="3" height="12" fill="#ff0000"/>
<rect x="791" y="249" width="1" height="10" fill="#ff5a00"/>
<rect x="795" y="233" width="1" height="28" fill="#32cd32"/>
<rect x="794" y="249" width="3" height="3" fill="#32cd32"/>
<rect x="799" y="217" width="1" height="37" fill="#ff0000"/>
<rect x="798" y="240" width="3" height="12" fill="#ff0000"/>
<rect x="799" y="241" width="1" height="10" fill="#ff5a00"/>
<rect x="803" y="237" width="1" height="16" fill="#32cd32"/>
<rect x="802" y="240" width="3" height="9" fill="#32cd32"/>
<rect x="807" y="241" width="1" height="21" fill="#32cd32"/>
<rect x="806" y="247" width="3" height="11" fill="#32cd32"/>
<rect x="811" y="233" width="1" height="37" fill="#ff0000"/>
<rect x="810" y="234" width="3" height="22" fill="#ff0000"/>
<rect x="811" y="235" width="1" height="20" fill="#ff5a00"/>
<rect x="815" y="226" width="1" height="25" fill="#32cd32"/>
<rect x="814" y="235" width="3" height="7" fill="#32cd32"/>
<rect x="819" y="239" width="1" height="47" fill="#32cd32"/>
<rect x="818" y="240" width="3" height="41" fill="#32cd32"/>
<rect x="823" y="263" width="1" height="24" fill="#ff0000"/>
<rect x="822" y="269" width="3" height="12" fill="#ff0000"/>
<rect x="823" y="270" width="1" height="10" fill="#ff5a00"/>
<rect x="827" y="266" width="1" height="25" fill="#32cd32"/>
<rect x="826" y="269" width="3" height="4" fill="#32cd32"/>
<rect x="831" y="264" width="1" height="22" fill="#32cd32"/>
<rect x="830" y="274" width="3" height="7" fill="#32cd32"/>
<rect x="835" y="278" width="1" height="93" fill="#32cd32"/>
<rect x="834" y="280" width="3" height="81" fill="#32cd32"/>
<rect x="839" y="329" width="1" height="35" fill="#ff0000"/>
<rect x="838" y="333" width="3" height="26" fill="#ff0000"/>
<rect x="839" y="334" width="1" height="24" fill="#ff5a00"/>
<rect x="843" y="322" width="1" height="27" fill="#ff0000"/>
<rect x="842" y="331" width="3" height="3" fill="#ff0000"/>
<rect x="843" y="332" width="1" height="1" fill="#ff5a00"/>
<rect x="847" y="325" width="1" height="33" fill="#32cd32"/>
<rect x="846" y="331" width="3" height="16" fill="#32cd32"/>
<rect x="851" y="339" width="1" height="23" fill="#32cd32"/>
<rect x="850" y="347" width="3" height="6" fill="#32cd32"/>
<rect x="855" y="344" width="1" height="17" fill="#32cd32"/>
<rect x="854" y="351" width="3" height="4" fill="#32cd32"/>
<rect x="859" y="327" width="1" height="32" fill="#ff0000"/>
<rect x="858" y="331" width="3" height="24" fill="#ff0000"/>
<rect x="859" y="332" width="1" height="22" fill="#ff5a00"/>
<rect x="863" y="315" width="1" height="29" fill="#32cd32"/>
<rect x="862" y="330" width="3" height="11" fill="#32cd32"/>
<rect x="867" y="307" width="1" height="43" fill="#ff0000"/>
<rect x="866" y="310" width="3" height="30" fill="#ff0000"/>
<rect x="867" y="311" width="1" height="28" fill="#ff5a00"/>
<rect x="871" y="309" width="1" height="25" fill="#32cd32"/>
<rect x="870" y="312" width="3" height="19" fill="#32cd32"/>
<rect x="875" y="316" width="1" height="19" fill="#ff0000"/>
<rect x="874" y="320" width="3" height="11" fill="#ff0000"/>
<rect x="875" y="321" width="1" height="9" fill="#ff5a00"/>
<rect x="879" y="312" width="1" height="24" fill="#32cd32"/>
<rect x="878" y="319" width="3" height="11" fill="#32cd32"/>
<rect x="883" y="319" width="1" height="18" fill="#ff0000"/>
<rect x="882" y="329" width="3" height="6" fill="#ff0000"/>
<rect x="883" y="330" width="1" height="4" fill="#ff5a00"/>
<rect x="887" y="311" width="1" height="22" fill="#ff0000"/>
<rect x="886" y="325" width="3" height="6" fill="#ff0000"/>
<rect x="887" y="326" width="1" height="4" fill="#ff5a00"/>
<rect x="891" y="323" width="1" height="24" fill="#32cd32"/>
<rect x="890" y="327" width="3" height="14" fill="#32cd32"/>
<rect x="895" y="326" width="1" height="20" fill="#32cd32"/>
<rect x="894" y="339" width="3" height="5" fill="#32cd32"/>
<rect x="899" y="319" width="1" height="27" fill="#ff0000"/>
<rect x="898" y="323" width="3" height="19" fill="#ff0000"/>
<rect x="899" y="324" width="1" height="17" fill="#ff5a00"/>
<rect x="903" y="311" width="1" height="36" fill="#32cd32"/>
<rect x="902" y="323" width="3" height="12" fill="#32cd32"/>
<rect x="907" y="330" width="1" height="37" fill="#32cd32"/>
<rect x="906" y="333" width="3" height="17" fill="#32cd32"/>
<rect x="911" y="346" width="1" height="17" fill="#ff0000"/>
<rect x="910" y="349" width="3" height="8" fill="#ff0000"/>
<rect x="911" y="350" width="1" height="6" fill="#ff5a00"/>
<rect x="915" y="326" width="1" height="55" fill="#ff0000"/>
<rect x="914" y="335" width="3" height="16" fill="#ff0000"/>
<rect x="915" y="336" width="1" height="14" fill="#ff5a00"/>
<rect x="919" y="332" width="1" height="34" fill="#32cd32"/>
<rect x="918" y="335" width="3" height="26" fill="#32cd32"/>
<rect x="923" y="337" width="1" height="25" fill="#ff0000"/>
<rect x="922" y="353" width="3" height="6" fill="#ff0000"/>
<rect x="923" y="354" width="1" height="4" fill="#ff5a00"/>
</g>
<path d="M6 35 L9.5 30.8 L13 35 Z" fill="#000"/>
<text x="18.3" y="36" font-size="10" fill="#000" stroke="#000" stroke-width="0.2" textLength="68.3" lengthAdjust="spacingAndGlyphs" text-rendering="geometricPrecision" >USDCNH-,Daily</text>
<text x="93" y="36" font-size="10" fill="#000" stroke="#000" stroke-width="0.2" textLength="141" lengthAdjust="spacingAndGlyphs" text-rendering="geometricPrecision" >6.37443 6.38891 6.37258 6.37798</text>
<g shape-rendering="crispEdges">
<rect x="5" y="43" width="222" height="59" fill="#fff"/>
<rect x="6" y="44" width="52" height="25" fill="url(#gs)"/>
<rect x="173" y="44" width="52" height="25" fill="url(#gs)"/>
<rect x="6" y="68" width="109" height="33" fill="url(#gp)"/>
<rect x="117" y="68" width="108" height="33" fill="url(#gp)"/>
<rect x="6" y="44" width="52" height="1" fill="#c41414"/><rect x="173" y="44" width="52" height="1" fill="#c41414"/>
<rect x="57" y="44" width="1" height="25" fill="#c41414"/><rect x="173" y="44" width="1" height="25" fill="#c41414"/>
<rect x="57" y="68" width="58" height="1" fill="#c41414"/><rect x="117" y="68" width="57" height="1" fill="#c41414"/>
<rect x="114" y="68" width="1" height="33" fill="#b81010"/><rect x="117" y="68" width="1" height="33" fill="#b81010"/>
<rect x="6" y="44" width="1" height="57" fill="#c01010"/><rect x="224" y="44" width="1" height="57" fill="#c01010"/>
<rect x="6" y="100" width="109" height="1" fill="#a00000"/><rect x="117" y="100" width="108" height="1" fill="#a00000"/>
<rect x="10" y="67" width="44" height="1" fill="#8a0000"/><rect x="10" y="68" width="44" height="1" fill="#f58080"/>
<rect x="177" y="67" width="44" height="1" fill="#8a0000"/><rect x="177" y="68" width="44" height="1" fill="#f58080"/>
<rect x="60" y="44" width="111" height="22" fill="#a8b0b8"/>
<rect x="61" y="45" width="109" height="20" fill="#fff"/>
<rect x="61" y="45" width="20" height="20" fill="url(#gb)"/>
<rect x="150" y="45" width="20" height="20" fill="url(#gb)"/>
<rect x="81" y="45" width="1" height="20" fill="#a8b0b8"/><rect x="149" y="45" width="1" height="20" fill="#a8b0b8"/>
</g>
<path d="M68 53 L73 53 L70.5 56 Z" fill="#4868c8"/>
<path d="M157.5 56 L162.5 56 L160 53 Z" fill="#4868c8"/>
<text x="18.1" y="60" font-size="12.2" fill="#fff" textLength="25.8" lengthAdjust="spacingAndGlyphs" >SELL</text>
<text x="186.3" y="60" font-size="12.2" fill="#fff" textLength="23.7" lengthAdjust="spacingAndGlyphs" >BUY</text>
<text x="122.5" y="58.7" font-size="12" fill="#000" stroke="#000" stroke-width="0.15" textLength="23.3" lengthAdjust="spacingAndGlyphs" >3.00</text>
<text x="26" y="95" font-size="11" fill="#fff" textLength="23" lengthAdjust="spacingAndGlyphs" font-weight="bold" >6.37</text>
<text x="136" y="95" font-size="11" fill="#fff" textLength="23.5" lengthAdjust="spacingAndGlyphs" font-weight="bold" >6.38</text>
<text x="53.8" y="95.2" font-size="33.8" fill="#fff" textLength="34" lengthAdjust="spacingAndGlyphs" filter="url(#thin)">79</text>
<text x="165.3" y="95.2" font-size="33.8" fill="#fff" textLength="33" lengthAdjust="spacingAndGlyphs" filter="url(#thin)">35</text>
<text x="93.2" y="79" font-size="11" fill="#fff" textLength="6.8" lengthAdjust="spacingAndGlyphs" font-weight="bold" >8</text>
<text x="204" y="79" font-size="11" fill="#fff" textLength="6" lengthAdjust="spacingAndGlyphs" font-weight="bold" >7</text>
<text x="7.4" y="417" font-size="10" fill="#000" stroke="#000" stroke-width="0.2" textLength="153.6" lengthAdjust="spacingAndGlyphs" text-rendering="geometricPrecision" >MACD(12,26,9) -0.011321 -0.011793</text>
<g shape-rendering="crispEdges" fill="#c0c0c0">
<rect x="3" y="436" width="2" height="21"/>
<rect x="6" y="436" width="3" height="21"/>
<rect x="10" y="436" width="3" height="22"/>
<rect x="14" y="436" width="3" height="26"/>
<rect x="18" y="436" width="3" height="31"/>
<rect x="22" y="436" width="3" height="34"/>
<rect x="26" y="436" width="3" height="34"/>
<rect x="30" y="436" width="3" height="33"/>
<rect x="34" y="436" width="3" height="31"/>
<rect x="38" y="436" width="3" height="33"/>
<rect x="42" y="436" width="3" height="32"/>
<rect x="46" y="436" width="3" height="30"/>
<rect x="50" y="436" width="3" height="27"/>
<rect x="54" y="436" width="3" height="23"/>
<rect x="58" y="436" width="3" height="20"/>
<rect x="62" y="436" width="3" height="20"/>
<rect x="66" y="436" width="3" height="20"/>
<rect x="70" y="436" width="3" height="16"/>
<rect x="74" y="436" width="3" height="15"/>
<rect x="78" y="436" width="3" height="13"/>
<rect x="82" y="436" width="3" height="10"/>
<rect x="86" y="436" width="3" height="11"/>
<rect x="90" y="436" width="3" height="13"/>
<rect x="94" y="436" width="3" height="13"/>
<rect x="98" y="436" width="3" height="13"/>
<rect x="102" y="436" width="3" height="13"/>
<rect x="106" y="436" width="3" height="13"/>
<rect x="110" y="436" width="3" height="13"/>
<rect x="114" y="436" width="3" height="13"/>
<rect x="118" y="436" width="3" height="17"/>
<rect x="122" y="436" width="3" height="19"/>
<rect x="126" y="436" width="3" height="21"/>
<rect x="130" y="436" width="3" height="22"/>
<rect x="134" y="436" width="3" height="24"/>
<rect x="138" y="436" width="3" height="23"/>
<rect x="142" y="436" width="3" height="21"/>
<rect x="146" y="436" width="3" height="17"/>
<rect x="150" y="436" width="3" height="14"/>
<rect x="154" y="436" width="3" height="10"/>
<rect x="158" y="436" width="3" height="9"/>
<rect x="162" y="436" width="3" height="9"/>
<rect x="166" y="436" width="3" height="4"/>
<rect x="170" y="436" width="3" height="1"/>
<rect x="174" y="435" width="3" height="1"/>
<rect x="178" y="434" width="3" height="2"/>
<rect x="182" y="433" width="3" height="3"/>
<rect x="186" y="431" width="3" height="5"/>
<rect x="190" y="427" width="3" height="9"/>
<rect x="194" y="421" width="3" height="15"/>
<rect x="198" y="419" width="3" height="17"/>
<rect x="202" y="420" width="3" height="16"/>
<rect x="206" y="422" width="3" height="14"/>
<rect x="210" y="422" width="3" height="14"/>
<rect x="214" y="423" width="3" height="13"/>
<rect x="218" y="424" width="3" height="12"/>
<rect x="222" y="425" width="3" height="11"/>
<rect x="226" y="424" width="3" height="12"/>
<rect x="230" y="424" width="3" height="12"/>
<rect x="234" y="424" width="3" height="12"/>
<rect x="238" y="423" width="3" height="13"/>
<rect x="242" y="421" width="3" height="15"/>
<rect x="246" y="418" width="3" height="18"/>
<rect x="250" y="417" width="3" height="19"/>
<rect x="254" y="413" width="3" height="23"/>
<rect x="258" y="411" width="3" height="25"/>
<rect x="262" y="410" width="3" height="26"/>
<rect x="266" y="409" width="3" height="27"/>
<rect x="270" y="409" width="3" height="27"/>
<rect x="274" y="412" width="3" height="24"/>
<rect x="278" y="413" width="3" height="23"/>
<rect x="282" y="414" width="3" height="22"/>
<rect x="286" y="414" width="3" height="22"/>
<rect x="290" y="416" width="3" height="20"/>
<rect x="294" y="418" width="3" height="18"/>
<rect x="298" y="421" width="3" height="15"/>
<rect x="302" y="423" width="3" height="13"/>
<rect x="306" y="426" width="3" height="10"/>
<rect x="310" y="429" width="3" height="7"/>
<rect x="314" y="433" width="3" height="3"/>
<rect x="318" y="436" width="3" height="2"/>
<rect x="322" y="436" width="3" height="4"/>
<rect x="326" y="436" width="3" height="7"/>
<rect x="330" y="436" width="3" height="10"/>
<rect x="334" y="436" width="3" height="12"/>
<rect x="338" y="436" width="3" height="14"/>
<rect x="342" y="436" width="3" height="16"/>
<rect x="346" y="436" width="3" height="17"/>
<rect x="350" y="436" width="3" height="18"/>
<rect x="354" y="436" width="3" height="17"/>
<rect x="358" y="436" width="3" height="16"/>
<rect x="362" y="436" width="3" height="17"/>
<rect x="366" y="436" width="3" height="22"/>
<rect x="370" y="436" width="3" height="25"/>
<rect x="374" y="436" width="3" height="26"/>
<rect x="378" y="436" width="3" height="25"/>
<rect x="382" y="436" width="3" height="24"/>
<rect x="386" y="436" width="3" height="24"/>
<rect x="390" y="436" width="3" height="24"/>
<rect x="394" y="436" width="3" height="25"/>
<rect x="398" y="436" width="3" height="23"/>
<rect x="402" y="436" width="3" height="22"/>
<rect x="406" y="436" width="3" height="22"/>
<rect x="410" y="436" width="3" height="23"/>
<rect x="414" y="436" width="3" height="24"/>
<rect x="418" y="436" width="3" height="27"/>
<rect x="422" y="436" width="3" height="30"/>
<rect x="426" y="436" width="3" height="33"/>
<rect x="430" y="436" width="3" height="34"/>
<rect x="434" y="436" width="3" height="34"/>
<rect x="438" y="436" width="3" height="33"/>
<rect x="442" y="436" width="3" height="30"/>
<rect x="446" y="436" width="3" height="29"/>
<rect x="450" y="436" width="3" height="28"/>
<rect x="454" y="436" width="3" height="25"/>
<rect x="458" y="436" width="3" height="24"/>
<rect x="462" y="436" width="3" height="23"/>
<rect x="466" y="436" width="3" height="22"/>
<rect x="470" y="436" width="3" height="19"/>
<rect x="474" y="436" width="3" height="16"/>
<rect x="478" y="436" width="3" height="11"/>
<rect x="482" y="436" width="3" height="6"/>
<rect x="486" y="436" width="3" height="2"/>
<rect x="490" y="432" width="3" height="4"/>
<rect x="494" y="428" width="3" height="8"/>
<rect x="498" y="424" width="3" height="12"/>
<rect x="502" y="422" width="3" height="14"/>
<rect x="506" y="422" width="3" height="14"/>
<rect x="510" y="421" width="3" height="15"/>
<rect x="514" y="421" width="3" height="15"/>
<rect x="518" y="421" width="3" height="15"/>
<rect x="522" y="420" width="3" height="16"/>
<rect x="526" y="420" width="3" height="16"/>
<rect x="530" y="421" width="3" height="15"/>
<rect x="534" y="420" width="3" height="16"/>
<rect x="538" y="420" width="3" height="16"/>
<rect x="542" y="419" width="3" height="17"/>
<rect x="546" y="419" width="3" height="17"/>
<rect x="550" y="420" width="3" height="16"/>
<rect x="554" y="421" width="3" height="15"/>
<rect x="558" y="422" width="3" height="14"/>
<rect x="562" y="424" width="3" height="12"/>
<rect x="566" y="424" width="3" height="12"/>
<rect x="570" y="423" width="3" height="13"/>
<rect x="574" y="423" width="3" height="13"/>
<rect x="578" y="425" width="3" height="11"/>
<rect x="582" y="426" width="3" height="10"/>
<rect x="586" y="426" width="3" height="10"/>
<rect x="590" y="427" width="3" height="9"/>
<rect x="594" y="423" width="3" height="13"/>
<rect x="598" y="423" width="3" height="13"/>
<rect x="602" y="426" width="3" height="10"/>
<rect x="606" y="428" width="3" height="8"/>
<rect x="610" y="430" width="3" height="6"/>
<rect x="614" y="432" width="3" height="4"/>
<rect x="618" y="433" width="3" height="3"/>
<rect x="622" y="434" width="3" height="2"/>
<rect x="626" y="434" width="3" height="2"/>
<rect x="630" y="433" width="3" height="3"/>
<rect x="634" y="432" width="3" height="4"/>
<rect x="638" y="432" width="3" height="4"/>
<rect x="642" y="432" width="3" height="4"/>
<rect x="646" y="432" width="3" height="4"/>
<rect x="650" y="432" width="3" height="4"/>
<rect x="654" y="431" width="3" height="5"/>
<rect x="658" y="431" width="3" height="5"/>
<rect x="662" y="429" width="3" height="7"/>
<rect x="666" y="428" width="3" height="8"/>
<rect x="670" y="430" width="3" height="6"/>
<rect x="674" y="432" width="3" height="4"/>
<rect x="678" y="433" width="3" height="3"/>
<rect x="682" y="433" width="3" height="3"/>
<rect x="686" y="435" width="3" height="1"/>
<rect x="690" y="436" width="3" height="1"/>
<rect x="694" y="436" width="3" height="3"/>
<rect x="698" y="436" width="3" height="5"/>
<rect x="702" y="436" width="3" height="6"/>
<rect x="706" y="436" width="3" height="8"/>
<rect x="710" y="436" width="3" height="9"/>
<rect x="714" y="436" width="3" height="8"/>
<rect x="718" y="436" width="3" height="8"/>
<rect x="722" y="436" width="3" height="8"/>
<rect x="726" y="436" width="3" height="9"/>
<rect x="730" y="436" width="3" height="10"/>
<rect x="734" y="436" width="3" height="10"/>
<rect x="738" y="436" width="3" height="12"/>
<rect x="742" y="436" width="3" height="11"/>
<rect x="746" y="436" width="3" height="9"/>
<rect x="750" y="436" width="3" height="5"/>
<rect x="754" y="436" width="3" height="2"/>
<rect x="758" y="436" width="3" height="1"/>
<rect x="762" y="436" width="3" height="1"/>
<rect x="766" y="435" width="3" height="1"/>
<rect x="770" y="436" width="3" height="1"/>
<rect x="774" y="435" width="3" height="1"/>
<rect x="778" y="434" width="3" height="2"/>
<rect x="782" y="436" width="3" height="1"/>
<rect x="786" y="436" width="3" height="3"/>
<rect x="790" y="436" width="3" height="4"/>
<rect x="794" y="436" width="3" height="4"/>
<rect x="798" y="436" width="3" height="4"/>
<rect x="802" y="436" width="3" height="4"/>
<rect x="806" y="436" width="3" height="5"/>
<rect x="810" y="436" width="3" height="4"/>
<rect x="814" y="436" width="3" height="4"/>
<rect x="818" y="436" width="3" height="6"/>
<rect x="822" y="436" width="3" height="7"/>
<rect x="826" y="436" width="3" height="8"/>
<rect x="830" y="436" width="3" height="9"/>
<rect x="834" y="436" width="3" height="15"/>
<rect x="838" y="436" width="3" height="17"/>
<rect x="842" y="436" width="3" height="19"/>
<rect x="846" y="436" width="3" height="21"/>
<rect x="850" y="436" width="3" height="23"/>
<rect x="854" y="436" width="3" height="24"/>
<rect x="858" y="436" width="3" height="23"/>
<rect x="862" y="436" width="3" height="23"/>
<rect x="866" y="436" width="3" height="20"/>
<rect x="870" y="436" width="3" height="20"/>
<rect x="874" y="436" width="3" height="19"/>
<rect x="878" y="436" width="3" height="18"/>
<rect x="882" y="436" width="3" height="17"/>
<rect x="886" y="436" width="3" height="16"/>
<rect x="890" y="436" width="3" height="16"/>
<rect x="894" y="436" width="3" height="16"/>
<rect x="898" y="436" width="3" height="14"/>
<rect x="902" y="436" width="3" height="14"/>
<rect x="906" y="436" width="3" height="14"/>
<rect x="910" y="436" width="3" height="14"/>
<rect x="914" y="436" width="3" height="13"/>
<rect x="918" y="436" width="3" height="13"/>
<rect x="922" y="436" width="3" height="14"/>
</g>
<polyline fill="none" stroke="#ff0000" stroke-width="1" points="3,461.7 8,459.7 16,458 27,461 35.5,464.0 39.5,465.3 43.5,466.5 47.5,467.3 51.5,467.4 55.5,466.6 59.5,465.1 63.5,463.6 67.5,462.1 71.5,460.5 75.5,458.5 79.5,456.5 83.5,454.3 87.5,452.6 91.5,451.4 95.5,450.6 99.5,449.7 103.5,449.0 107.5,448.6 111.5,448.3 115.5,448.3 119.5,449.0 123.5,449.9 127.5,450.8 131.5,451.8 135.5,453.0 139.5,454.1 143.5,455.0 147.5,455.4 151.5,455.5 155.5,454.8 159.5,453.7 163.5,452.4 167.5,450.4 171.5,447.9 175.5,445.2 179.5,442.8 183.5,440.6 187.5,438.5 191.5,436.3 195.5,433.7 199.5,430.8 203.5,428.6 207.5,426.9 211.5,425.5 215.5,424.3 219.5,423.3 223.5,422.6 227.5,422.3 231.5,422.6 235.5,423.2 239.5,423.5 243.5,423.3 247.5,422.9 251.5,422.2 255.5,421.1 259.5,419.5 263.5,418.0 267.5,416.3 271.5,414.6 275.5,413.4 279.5,412.5 283.5,412.0 287.5,411.7 291.5,412.0 295.5,412.8 299.5,414.0 303.5,415.6 307.5,417.5 311.5,419.4 315.5,421.7 319.5,424.3 323.5,427.1 327.5,430.1 331.5,433.1 335.5,436.1 339.5,439.0 343.5,441.9 347.5,444.4 351.5,446.8 355.5,448.4 359.5,449.8 363.5,450.9 367.5,452.2 371.5,453.7 375.5,455.0 379.5,456.0 383.5,456.8 387.5,457.5 391.5,458.2 395.5,459.2 399.5,460.0 403.5,460.0 407.5,459.7 411.5,459.4 415.5,459.3 419.5,459.7 423.5,460.3 427.5,461.3 431.5,462.3 435.5,463.5 439.5,464.7 443.5,465.6 447.5,466.3 451.5,466.7 455.5,466.5 459.5,465.9 463.5,464.8 467.5,463.4 471.5,461.7 475.5,459.9 479.5,457.7 483.5,455.1 487.5,452.2 491.5,449.0 495.5,445.5 499.5,441.6 503.5,437.7 507.5,434.0 511.5,430.7 515.5,427.8 519.5,425.6 523.5,423.6 527.5,422.3 531.5,421.5 535.5,421.1 539.5,420.9 543.5,420.6 547.5,420.3 551.5,420.2 555.5,420.2 559.5,420.4 563.5,420.8 567.5,421.2 571.5,421.5 575.5,421.8 579.5,422.4 583.5,423.2 587.5,423.9 591.5,424.6 595.5,424.7 599.5,424.6 603.5,424.8 607.5,425.4 611.5,426.2 615.5,426.9 619.5,427.7 623.5,428.6 627.5,429.4 631.5,430.5 635.5,431.4 639.5,432.1 643.5,432.5 647.5,432.8 651.5,432.7 655.5,432.5 659.5,432.2 663.5,431.6 667.5,431.1 671.5,430.9 675.5,430.9 679.5,431.1 683.5,431.2 687.5,431.5 691.5,432.1 695.5,433.0 699.5,434.3 703.5,435.8 707.5,437.4 711.5,438.8 715.5,440.0 719.5,441.2 723.5,442.1 727.5,443.1 731.5,443.9 735.5,444.4 739.5,445.1 743.5,445.4 747.5,445.4 751.5,445.1 755.5,444.4 759.5,443.6 763.5,442.6 767.5,441.4 771.5,440.3 775.5,438.9 779.5,437.5 783.5,436.4 787.5,436.2 791.5,436.4 795.5,436.8 799.5,437.2 803.5,437.7 807.5,438.2 811.5,438.7 815.5,439.3 819.5,440.0 823.5,440.5 827.5,440.9 831.5,441.5 835.5,442.7 839.5,444.2 843.5,445.8 847.5,447.7 851.5,449.9 855.5,451.8 859.5,453.6 863.5,455.3 867.5,456.6 871.5,457.1 875.5,457.3 879.5,457.2 883.5,456.7 887.5,456.0 891.5,455.1 895.5,454.2 899.5,453.2 903.5,452.5 907.5,451.8 911.5,451.3 915.5,450.8 919.5,450.3 923.5,450.1" shape-rendering="crispEdges"/>
<text x="7.4" y="488" font-size="10" fill="#000" stroke="#000" stroke-width="0.2" textLength="66.6" lengthAdjust="spacingAndGlyphs" text-rendering="geometricPrecision" >RSI(14) 40.8547</text>
<g shape-rendering="crispEdges"><line x1="4" y1="497.5" x2="1165" y2="497.5" stroke="#c0c0c0" stroke-dasharray="3,3"/><line x1="4" y1="525.5" x2="1165" y2="525.5" stroke="#c0c0c0" stroke-dasharray="3,3"/></g>
<polyline fill="none" stroke="#1e90ff" stroke-width="1" points="3.5,518.3 7.5,521 11.5,522.3 15.5,528.4 19.5,529.7 23.5,526.8 27.5,521.7 31.5,521.4 35.5,519 39.5,524.6 43.5,519.7 47.5,518.3 51.5,514.3 55.5,512 59.5,516 63.5,517.4 67.5,517.4 71.5,511.2 75.5,512.3 79.5,515.2 83.5,509.3 87.5,515 91.5,517.4 95.5,514.3 99.5,515.2 103.5,516.6 107.5,513.3 111.5,515 115.5,517 119.5,521.4 123.5,519.2 127.5,520.1 131.5,520.3 135.5,522.3 139.5,516 143.5,515 147.5,511.6 151.5,510.3 155.5,510.3 159.5,511.2 163.5,513.3 167.5,504.9 171.5,507.2 175.5,511.6 179.5,509.6 183.5,508.2 187.5,507.2 191.5,503.1 195.5,499.2 199.5,505.3 203.5,508.2 207.5,511.6 211.5,509.3 215.5,509.3 219.5,509.3 223.5,511.6 227.5,508.5 231.5,508.2 235.5,508.2 239.5,505.8 243.5,504.2 247.5,502.6 251.5,503.5 255.5,498.2 259.5,499.5 263.5,502.6 267.5,501.3 271.5,503.5 275.5,508.2 279.5,506.2 283.5,505.3 287.5,505.3 291.5,508 295.5,509.3 299.5,511.2 303.5,513.3 307.5,512.3 311.5,517.4 315.5,518.3 319.5,520.3 323.5,519.2 327.5,520.6 331.5,523.3 335.5,520.3 339.5,521.9 343.5,524.3 347.5,520.3 351.5,521.4 355.5,517.4 359.5,516 363.5,521 367.5,528.4 371.5,527.3 375.5,524.6 379.5,517.6 383.5,517.9 387.5,520 391.5,519.2 395.5,522.3 399.5,518.3 403.5,519.2 407.5,518.3 411.5,522.3 415.5,522.7 419.5,526.4 423.5,527.3 427.5,529 431.5,527.3 435.5,523.7 439.5,522.3 443.5,518.3 447.5,519.2 451.5,520.3 455.5,516.3 459.5,518.3 463.5,519.2 467.5,517 471.5,513.6 475.5,513.3 479.5,506.2 483.5,503.5 487.5,502.2 491.5,501.3 495.5,499.5 499.5,499.5 503.5,501.8 507.5,505.3 511.5,505.3 515.5,504.2 519.5,503.5 523.5,502.6 527.5,503.1 531.5,506.2 535.5,502.2 539.5,504.2 543.5,500.5 547.5,503.1 551.5,505.3 555.5,504.2 559.5,510.3 563.5,510.3 567.5,507.6 571.5,502.6 575.5,506.6 579.5,511.2 583.5,509.3 587.5,509.3 591.5,507.2 595.5,499.5 599.5,507.2 603.5,514.3 607.5,513.3 611.5,513.3 615.5,513.3 619.5,513.3 623.5,514.3 627.5,509.3 631.5,508.2 635.5,508.2 639.5,510.3 643.5,510.3 647.5,511.3 651.5,511.3 655.5,506.2 659.5,508.2 663.5,505.3 667.5,505.3 671.5,510.9 675.5,514.3 679.5,514.3 683.5,510.3 687.5,516.3 691.5,514.3 695.5,517.4 699.5,518.3 703.5,518.3 707.5,521.4 711.5,517.6 715.5,513.3 719.5,514.3 723.5,516.3 727.5,518.3 731.5,518.3 735.5,520 739.5,522.3 743.5,513.6 747.5,508.2 751.5,506.2 755.5,504.9 759.5,508.9 763.5,511.3 767.5,511.3 771.5,512.3 775.5,509.3 779.5,508 783.5,515 787.5,519.2 791.5,514.7 795.5,514.3 799.5,512.3 803.5,514.3 807.5,515.2 811.5,511.3 815.5,512.3 819.5,518.3 823.5,516.3 827.5,516.3 831.5,517.6 835.5,526.4 839.5,522.7 843.5,521.4 847.5,523.3 851.5,523.3 855.5,524.3 859.5,519.2 863.5,520.3 867.5,515.2 871.5,517.4 875.5,516.3 879.5,517.4 883.5,516.3 887.5,516.3 891.5,518.3 895.5,518.3 899.5,514.3 903.5,516.3 907.5,518.3 911.5,518.3 915.5,516.3 919.5,519.2 923.5,518.3" shape-rendering="crispEdges"/>
<g shape-rendering="crispEdges" fill="#000">
<rect x="3" y="548" width="1" height="3"/>
<rect x="67" y="548" width="1" height="3"/>
<rect x="131" y="548" width="1" height="3"/>
<rect x="195" y="548" width="1" height="3"/>
<rect x="259" y="548" width="1" height="3"/>
<rect x="323" y="548" width="1" height="3"/>
<rect x="387" y="548" width="1" height="3"/>
<rect x="451" y="548" width="1" height="3"/>
<rect x="515" y="548" width="1" height="3"/>
<rect x="579" y="548" width="1" height="3"/>
<rect x="643" y="548" width="1" height="3"/>
<rect x="707" y="548" width="1" height="3"/>
<rect x="771" y="548" width="1" height="3"/>
<rect x="835" y="548" width="1" height="3"/>
<rect x="899" y="548" width="1" height="3"/>
</g>
<text x="2.8" y="560" font-size="10" fill="#000" stroke="#000" stroke-width="0.2" textLength="51" lengthAdjust="spacingAndGlyphs" text-rendering="geometricPrecision" >29 Dec 2020</text>
<text x="66.4" y="560" font-size="10" fill="#000" stroke="#000" stroke-width="0.2" textLength="48.7" lengthAdjust="spacingAndGlyphs" text-rendering="geometricPrecision" >21 Jan 2021</text>
<text x="130.7" y="560" font-size="10" fill="#000" stroke="#000" stroke-width="0.2" textLength="50.8" lengthAdjust="spacingAndGlyphs" text-rendering="geometricPrecision" >12 Feb 2021</text>
<text x="194.6" y="560" font-size="10" fill="#000" stroke="#000" stroke-width="0.2" textLength="45.7" lengthAdjust="spacingAndGlyphs" text-rendering="geometricPrecision" >8 Mar 2021</text>
<text x="258.6" y="560" font-size="10" fill="#000" stroke="#000" stroke-width="0.2" textLength="50.1" lengthAdjust="spacingAndGlyphs" text-rendering="geometricPrecision" >30 Mar 2021</text>
<text x="322.6" y="560" font-size="10" fill="#000" stroke="#000" stroke-width="0.2" textLength="49.7" lengthAdjust="spacingAndGlyphs" text-rendering="geometricPrecision" >22 Apr 2021</text>
<text x="386.5" y="560" font-size="10" fill="#000" stroke="#000" stroke-width="0.2" textLength="54.3" lengthAdjust="spacingAndGlyphs" text-rendering="geometricPrecision" >14 May 2021</text>
<text x="450.8" y="560" font-size="10" fill="#000" stroke="#000" stroke-width="0.2" textLength="43.2" lengthAdjust="spacingAndGlyphs" text-rendering="geometricPrecision" >7 Jun 2021</text>
<text x="515.1" y="560" font-size="10" fill="#000" stroke="#000" stroke-width="0.2" textLength="48" lengthAdjust="spacingAndGlyphs" text-rendering="geometricPrecision" >29 Jun 2021</text>
<text x="578.7" y="560" font-size="10" fill="#000" stroke="#000" stroke-width="0.2" textLength="46" lengthAdjust="spacingAndGlyphs" text-rendering="geometricPrecision" >21 Jul 2021</text>
<text x="643" y="560" font-size="10" fill="#000" stroke="#000" stroke-width="0.2" textLength="51.5" lengthAdjust="spacingAndGlyphs" text-rendering="geometricPrecision" >12 Aug 2021</text>
<text x="707" y="560" font-size="10" fill="#000" stroke="#000" stroke-width="0.2" textLength="45.7" lengthAdjust="spacingAndGlyphs" text-rendering="geometricPrecision" >3 Sep 2021</text>
<text x="771" y="560" font-size="10" fill="#000" stroke="#000" stroke-width="0.2" textLength="50.4" lengthAdjust="spacingAndGlyphs" text-rendering="geometricPrecision" >27 Sep 2021</text>
<text x="834.6" y="560" font-size="10" fill="#000" stroke="#000" stroke-width="0.2" textLength="50.1" lengthAdjust="spacingAndGlyphs" text-rendering="geometricPrecision" >19 Oct 2021</text>
<text x="899.2" y="560" font-size="10" fill="#000" stroke="#000" stroke-width="0.2" textLength="52.1" lengthAdjust="spacingAndGlyphs" text-rendering="geometricPrecision" >10 Nov 2021</text>
<g shape-rendering="crispEdges">
<rect x="0" y="568" width="1206" height="1" fill="#e9e9e9"/>
<rect x="0" y="569" width="1206" height="1" fill="#f4f4f4"/>
<rect x="0" y="570" width="1206" height="1" fill="#000"/>
<rect x="0" y="571" width="1206" height="19" fill="#f0f0f0"/>
<rect x="0" y="590" width="1206" height="1" fill="#fff"/>
<rect x="0" y="591" width="1206" height="2" fill="#f0f0f0"/>
<rect x="0" y="593" width="1206" height="1" fill="#f5f5f5"/>
<rect x="0" y="594" width="1206" height="1" fill="#a2a2a2"/>
<rect x="0" y="595" width="1206" height="1" fill="#fff"/>
<rect x="524" y="570" width="112" height="19" fill="#000"/>
<rect x="525" y="570" width="110" height="18" fill="#fff"/>
</g>
<text x="15" y="585" font-size="12.5" fill="#666" textLength="78" lengthAdjust="spacingAndGlyphs" opacity="0.99">USDX,Weekly</text>
<text x="115" y="585" font-size="12.5" fill="#666" textLength="86" lengthAdjust="spacingAndGlyphs" opacity="0.99">EURUSD-,Daily</text>
<text x="222" y="585" font-size="12.5" fill="#666" textLength="87" lengthAdjust="spacingAndGlyphs" opacity="0.99">AUDUSD-,Daily</text>
<text x="331.5" y="585" font-size="12.5" fill="#666" textLength="73" lengthAdjust="spacingAndGlyphs" opacity="0.99">USDCHF-,H4</text>
<text x="427" y="585" font-size="12.5" fill="#666" textLength="86.5" lengthAdjust="spacingAndGlyphs" opacity="0.99">USDCAD-,Daily</text>
<text x="647" y="585" font-size="12.5" fill="#666" textLength="73.5" lengthAdjust="spacingAndGlyphs" opacity="0.99">XAUUSD-,H4</text>
<text x="743" y="585" font-size="12.5" fill="#666" textLength="57" lengthAdjust="spacingAndGlyphs" opacity="0.99">UKOil-,H4</text>
<text x="536.5" y="585" font-size="12.5" fill="#000" textLength="87.5" lengthAdjust="spacingAndGlyphs" opacity="0.99">USDCNH-,Daily</text>
<g shape-rendering="crispEdges" fill="#555">
<rect x="104" y="573" width="1" height="14"/>
<rect x="212" y="573" width="1" height="14"/>
<rect x="320" y="573" width="1" height="14"/>
<rect x="416" y="573" width="1" height="14"/>
<rect x="732" y="573" width="1" height="14"/>
<rect x="812" y="573" width="1" height="14"/>
</g>
<path d="M1184 575.5 L1184 582.5 L1180.5 579 Z" fill="#888"/><path d="M1200 575.5 L1200 582.5 L1203.5 579 Z" fill="#888"/>
</svg></body></html>
